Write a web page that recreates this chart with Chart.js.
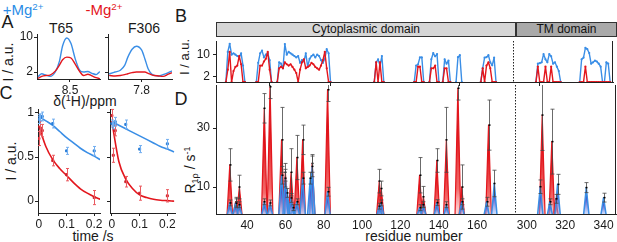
<!DOCTYPE html>
<html><head><meta charset="utf-8">
<script src="https://cdn.jsdelivr.net/npm/chart.js@4.4.1/dist/chart.umd.min.js"></script>
<style>
html,body{margin:0;padding:0;background:#fff;}
body{width:617px;height:242px;position:relative;overflow:hidden;font-family:'Liberation Sans',Arial,sans-serif;color:#1a1a1a;}
.c{position:absolute;white-space:nowrap;line-height:1;transform:translate(-50%,-50%);}
.r{position:absolute;white-space:nowrap;line-height:1;transform:translate(-50%,-50%) rotate(-90deg);}
canvas{position:absolute;}
sup{font-size:65%;vertical-align:0;position:relative;top:-0.5em;}
sub{font-size:65%;vertical-align:0;position:relative;top:0.3em;}
.hdr{position:absolute;box-sizing:border-box;border:1px solid #333;font-size:12px;text-align:center;line-height:13px;color:#111;}
</style></head><body>
<div class="c" style="left:23px;top:9px;font-size:15px;color:#2b8de6">+Mg<sup>2+</sup></div>
<div class="c" style="left:104px;top:9px;font-size:15px;color:#e3161d">-Mg<sup>2+</sup></div>
<div class="c" style="left:7.5px;top:22px;font-size:18px">A</div>
<div class="c" style="left:181px;top:15.5px;font-size:18px">B</div>
<div class="c" style="left:6px;top:93px;font-size:18px">C</div>
<div class="c" style="left:181px;top:99px;font-size:18px">D</div>
<div class="c" style="left:61px;top:28px;font-size:14px">T65</div>
<div class="c" style="left:144px;top:28px;font-size:14px">F306</div>
<div class="r" style="left:8px;top:62px;font-size:14px">I / a.u.</div>
<div class="c" style="left:85px;top:101px;font-size:14px">δ(<sup>1</sup>H)/ppm</div>
<div class="r" style="left:11px;top:161px;font-size:14px">I / a.u.</div>
<div class="c" style="left:93px;top:236px;font-size:14px">time /s</div>
<div class="r" style="left:184px;top:57px;font-size:13px">I / a.u.</div>
<div class="r" style="left:190px;top:170px;font-size:14px">R<sub>1ρ</sub> / s<sup>-1</sup></div>
<div class="c" style="left:414px;top:236px;font-size:14px">residue number</div>
<div class="hdr" style="left:216px;top:22px;width:300px;height:15px;background:#d6d6d6">Cytoplasmic domain</div>
<div class="hdr" style="left:515px;top:22px;width:102px;height:15px;background:#a9a9a9;border-left-width:2px">TM domain</div>
<script>
// ---------------- DATA ----------------
// Panel A: 1D spectra (ppm, intensity)
const t65Ppm  = [8.80,8.77,8.73,8.69,8.64,8.60,8.57,8.53,8.49,8.45,8.41,8.37,8.33,8.29,8.25,8.22];
const t65Blue = [1.0,1.6,1.3,1.0,2.0,4.5,8.0,9.8,8.5,5.0,2.5,2.0,2.1,1.7,1.4,2.0];
const t65Red  = [0.6,1.0,1.2,1.3,2.2,3.6,4.8,5.4,5.2,3.8,2.2,1.2,1.5,1.1,0.7,0.5];
const f306Ppm  = [8.10,8.05,8.00,7.96,7.93,7.89,7.85,7.80,7.77,7.74,7.70,7.64,7.60,7.55,7.52];
const f306Blue = [1.6,2.0,2.4,3.5,5.4,7.2,7.9,7.0,5.0,2.75,1.4,1.1,1.4,1.85,2.2];
const f306Red  = [1.2,1.1,1.2,1.4,1.6,1.85,2.0,2.0,2.0,1.7,1.3,1.1,1.0,1.5,1.8];
const aYTicks = [2,10];

// Panel C: decay points and fitted curves
const cTime = [0,0.005,0.012,0.05,0.1,0.2];
const c65Blue = [0.93,0.95,0.96,0.88,0.57,0.57], c65BlueErr = [0.05,0.04,0.05,0.05,0.04,0.05];
const c65Red  = [0.71,0.83,0.80,0.46,0.30,0.04], c65RedErr  = [0.08,0.08,0.07,0.06,0.07,0.08];
const c306Blue = [0.88,0.86,0.90,0.87,0.59,0.65], c306BlueErr = [0.04,0.04,0.05,0.05,0.04,0.05];
const c306Red  = [0.97,0.52,0.80,0.22,0.09,0.06], c306RedErr  = [0.07,0.08,0.06,0.06,0.08,0.07];
const fitTime = [0,0.025,0.05,0.075,0.1,0.125,0.15,0.175,0.2,0.222];
const fit65Blue = [0.96,0.91,0.86,0.79,0.72,0.66,0.60,0.55,0.51,0.47];
const fit65Red  = [0.85,0.62,0.47,0.37,0.29,0.21,0.14,0.09,0.05,0.02];
const fit306Blue = [0.90,0.86,0.82,0.78,0.74,0.70,0.66,0.62,0.59,0.56];
const fit306Red  = [0.90,0.45,0.25,0.14,0.07,0.04,0.02,0.01,0.005,0.0];
const cXTicks = [0,0.1,0.2], cYTicks = [0,0.5,1];

// Panel B: intensity per residue, runs of consecutive residues
const bStart = [29,45,56,107,128,136,143,150,163,306,329];
const bBlue = [
 [0,11,14,10,10.5,10,9.5,9.2,10.5,6,0],
 [0,7,10.5,11.5,9,10,10.5,8,0],
 [0,7.2,6.7,5,13.9,10,11,10.5,10,9.5,9,9.5,7,8,7.5,10.5,5.6,8.5,9.5,10,9,10,9.5,8,7,8.5,12,10.5,0],
 [0,7.2,8.3,6,9.5,0],
 [0,6,6.4,9,9,0],
 [0,8.3,10.6,9.4,10.2,0],
 [0,8.3,6.7,7.8,0],
 [0,9.1,9.8,0],
 [0,5,8.9,9.1,9.8,7.2,6.1,8.9,0],
 [0,6.7,6.9,7.2,10.2,8.3,7.2,10.2,9.4,6.7,7.2,5.6,4,0],
 [0,8.3,8.9,12.5,12,10.6,6.7,7.2,7.8,7.5,6.7,5.6,0,0,7.2,6.7,0]
];
const bRed = [
 [0,4.5,11,0,4,5.5,6,9.5,6.5,0,0],
 [0,0,6,6,7.5,8.5,11,4.5,0],
 [0,5,5.6,5,7.2,6.5,6,6.5,5.5,4.5,3.3,0,4.5,7.2,8.3,5,5.5,6,7,6.5,5.5,5,4.5,6,8,11,5,0,0],
 [0,7.2,0,7.2,0,0],
 [0,0,5.6,5.6,0,0],
 [0,5,5,6,0,0],
 [0,5,5,0,0],
 [null,null,null,null],
 [0,5,0,6,7.2,5,0,0,0],
 [0,5.6,0,0,0,5.6,0,0,5.6,0,0,0,0,0],
 [0,0,0,5.6,0,0,0,0,0,0,0,0,0,0,0,0,0]
];
const bYTicks = [2,10];
const bXTickRes = [52,84,152,308];

// Panel D: R1rho per residue
const dRedRes = [31,34,36,49,52,58,60,63,66,69,74,82,109,110,130,132,139,144,150,152,166,308,313,315];
const dRedVal = [17.5,5,10,36.7,44,26,15,15,20,26,18,43,12,9.5,14,6.7,19,26,43.5,10,31,34.4,25.4,6];
const dRedErr = [5.5,1.5,4,5,4,11,3,8,7.5,5,3,4,4,2.5,6,3.5,4,11,4,7.5,8.5,12,11,1.5];
const dBlueRes = [31,34,36,49,52,58,60,61,63,64,66,69,73,74,82,109,110,130,132,139,144,152,165,169,307,312,316,331,340];
const dBlueVal = [4.6,4.5,4,5,4.6,14,13,8,6.3,3,5,13,13,17,8.4,3.5,4.6,3,4,4.7,4,5,5,11.2,10.1,5,10.9,9.8,6.4];
const dBlueErr = [1,1.5,1,1,1,3,3,1.5,1.5,1,1,2,2,3.5,1.5,1,1,1,1,1,1,1,1.5,4.5,2.3,1,3.4,1.7,1.5];
const dXTickRes = [40,60,80,100,120,140,160,300,320,340];
const dYTicks = [10,30];

// broken residue axis: cytoplasmic part ends at 180, TM part starts at 294
const AXIS_BREAK = 180, TM_START = 294;
const pos = r => r >= TM_START ? r - (TM_START - AXIS_BREAK) : r;
const resOf = p => p > AXIS_BREAK ? p + (TM_START - AXIS_BREAK) : p;

// ---------------- STYLE / HELPERS ----------------
Chart.defaults.font.family = "'Liberation Sans', Arial, sans-serif";
Chart.defaults.font.size = 12;
Chart.defaults.color = '#1a1a1a';
const BLUE = '#3a8ee6', RED = '#e3161d', AX = '#222';

function canvasAt(l,t,w,h){const c=document.createElement('canvas');c.width=w;c.height=h;c.style.left=l+'px';c.style.top=t+'px';c.style.width=w+'px';c.style.height=h+'px';document.body.appendChild(c);return c;}
function xAxis(min,max,ticks,o={}){return {type:'linear',min,max,bounds:'data',reverse:!!o.reverse,
  afterBuildTicks:s=>{s.ticks=ticks.map(v=>({value:v}));},
  afterFit:s=>{s.height=o.h;s.paddingLeft=0;s.paddingRight=0;},
  ticks:{display:o.labels!==false,callback:o.fmt||(v=>String(v)),padding:o.pad??1,maxRotation:0,autoSkip:false,font:{size:o.fs||12},color:'#1a1a1a'},
  grid:{display:true,drawOnChartArea:false,drawTicks:o.tick!==0,tickLength:o.tick??3,color:AX},
  border:{display:true,color:AX,width:1}};}
function yAxis(min,max,ticks,o={}){return {type:'linear',min,max,bounds:'data',
  afterBuildTicks:s=>{s.ticks=ticks.map(v=>({value:v}));},
  afterFit:s=>{s.width=o.w;s.paddingTop=0;s.paddingBottom=0;},
  ticks:{display:o.labels!==false,callback:o.fmt||(v=>String(v)),padding:o.pad??1,font:{size:o.fs||12},color:'#1a1a1a'},
  grid:{display:true,drawOnChartArea:false,drawTicks:true,tickLength:o.tick??3,color:AX},
  border:{display:true,color:AX,width:1}};}
function mk(cv,datasets,xs,ys,pad,plugins=[]){return new Chart(cv,{type:'line',data:{datasets},
  options:{responsive:false,animation:false,devicePixelRatio:1,events:[],layout:{padding:pad},
    plugins:{legend:{display:false},tooltip:{enabled:false}},scales:{x:xs,y:ys},
    elements:{point:{radius:0},line:{borderCapStyle:'round',borderJoinStyle:'round'}}},plugins});}
const xy = (xs,ys) => xs.map((x,i)=>({x,y:ys[i]}));
const errPlugin = {id:'err',afterDatasetsDraw(ch){const {ctx}=ch,X=ch.scales.x,Y=ch.scales.y;
  ch.data.datasets.forEach(ds=>{if(!ds.errs)return;ctx.save();ctx.strokeStyle=ds.errColor;ctx.lineWidth=1;
    ds.data.forEach((p,i)=>{const e=ds.errs[i];const x=Math.round(X.getPixelForValue(p.x))+0.5;
      const y1=Y.getPixelForValue(p.y-e),y2=Y.getPixelForValue(p.y+e);
      ctx.beginPath();ctx.moveTo(x,y1);ctx.lineTo(x,y2);ctx.moveTo(x-1.5,y1);ctx.lineTo(x+1.5,y1);ctx.moveTo(x-1.5,y2);ctx.lineTo(x+1.5,y2);ctx.stroke();});
    ctx.restore();});}};
function framePlugin(right,dotAt){return {id:'frame',afterDraw(ch){const {ctx,chartArea:a}=ch;ctx.save();ctx.strokeStyle=AX;ctx.lineWidth=1;
  if(right){ctx.beginPath();ctx.moveTo(a.right-0.5,a.top);ctx.lineTo(a.right-0.5,a.bottom);ctx.stroke();}
  if(dotAt!=null){const x=Math.round(ch.scales.x.getPixelForValue(dotAt))+0.5;ctx.setLineDash([1.5,1.5]);ctx.beginPath();ctx.moveTo(x,a.top);ctx.lineTo(x,a.bottom);ctx.stroke();}
  ctx.restore();}};}

// ---------------- PANEL A ----------------
const specLine = (c,d) => ({data:d,borderColor:c,borderWidth:1.4,cubicInterpolationMode:'monotone',pointRadius:0});
mk(canvasAt(5,26,97,69),[specLine(RED,xy(t65Ppm,t65Red)),specLine(BLUE,xy(t65Ppm,t65Blue))],
  xAxis(8.214,8.814,[8.5],{reverse:true,h:16,fmt:v=>v.toFixed(1)}),
  yAxis(0.4,10.7,aYTicks,{w:32,tick:3,pad:1}),{top:8,right:2,left:0,bottom:0});
mk(canvasAt(98,26,76,69),[specLine(RED,xy(f306Ppm,f306Red)),specLine(BLUE,xy(f306Ppm,f306Blue))],
  xAxis(7.516,8.116,[7.8],{reverse:true,h:16,fmt:v=>v.toFixed(1)}),
  yAxis(0.4,10.7,aYTicks,{w:10,tick:3,labels:false}),{top:8,right:2,left:0,bottom:0});

// ---------------- PANEL C ----------------
const fitLine = (c,d) => ({data:d,borderColor:c,borderWidth:1.6,cubicInterpolationMode:'monotone',pointRadius:0});
const pts = (c,ec,d,e) => ({data:d,showLine:false,pointRadius:1.4,pointStyle:'rect',pointBackgroundColor:c,pointBorderColor:c,errs:e,errColor:ec});
const cFmt = v => v===0?'0':String(v);
mk(canvasAt(6,104,99,125),[
  pts('#d0202a','#ea5a60',xy(cTime,c65Red),c65RedErr),pts('#2a7ed8','#72aef0',xy(cTime,c65Blue),c65BlueErr),
  fitLine(RED,xy(fitTime,fit65Red)),fitLine(BLUE,xy(fitTime,fit65Blue))],
  xAxis(-0.0034,0.221,cXTicks,{h:16,fmt:cFmt}),yAxis(-0.135,1.045,cYTicks,{w:32,tick:3,pad:1,fmt:cFmt}),
  {top:4,right:2,left:0,bottom:0},[errPlugin]);
mk(canvasAt(100,104,80,125),[
  pts('#d0202a','#ea5a60',xy(cTime,c306Red),c306RedErr),pts('#2a7ed8','#72aef0',xy(cTime,c306Blue),c306BlueErr),
  fitLine(RED,xy(fitTime,fit306Red)),fitLine(BLUE,xy(fitTime,fit306Blue))],
  xAxis(-0.0069,0.2276,cXTicks,{h:16,fmt:cFmt}),yAxis(-0.135,1.045,cYTicks,{w:10,tick:3,labels:false}),
  {top:4,right:2,left:0,bottom:0},[errPlugin]);

// ---------------- PANEL B ----------------
function runs(vals){const out=[];bStart.forEach((s,k)=>{vals[k].forEach((v,i)=>out.push({x:pos(s+i),y:v}));out.push({x:pos(s+vals[k].length)+0.5,y:null});});return out;}
const X_MIN = 23.8, X_MAX = 232.5;
mk(canvasAt(186,37,431,53),[
  {data:runs(bRed),borderColor:RED,borderWidth:1.4,pointRadius:1.1,pointBackgroundColor:RED,pointBorderWidth:0,spanGaps:false,order:0},
  {data:runs(bBlue),borderColor:BLUE,borderWidth:1.4,pointRadius:1.1,pointBackgroundColor:BLUE,pointBorderWidth:0,spanGaps:false,order:1}],
  xAxis(X_MIN,X_MAX,bXTickRes.map(pos),{h:8,labels:false,tick:4}),
  yAxis(0,15,bYTicks,{w:30,tick:3,pad:3}),{top:0,right:1,left:0,bottom:0},[framePlugin(true,AXIS_BREAK)]);

// ---------------- PANEL D ----------------
const SPIKE_HALF = 1.5;
function spikeGrad(c,v,kind){const ch=c.chart,a=ch.chartArea;if(!a)return 'transparent';
  const y0=ch.scales.y.getPixelForValue(v);const g=ch.ctx.createLinearGradient(0,y0,0,a.bottom);
  if(kind==='r'){g.addColorStop(0,'rgb(115,0,5)');g.addColorStop(0.35,'rgb(222,20,25)');g.addColorStop(0.8,'rgba(240,70,70,0.8)');g.addColorStop(1,'rgba(250,160,160,0.4)');}
  else{g.addColorStop(0,'rgb(35,25,110)');g.addColorStop(0.45,'rgb(80,80,200)');g.addColorStop(1,'rgba(150,180,245,0.45)');}
  return g;}
function spikes(res,vals,kind,order){return res.map((r,i)=>{const p=pos(r),v=vals[i];
  return {data:[{x:p-SPIKE_HALF,y:0},{x:p,y:v},{x:p+SPIKE_HALF,y:0}],borderColor:kind==='r'?RED:BLUE,borderWidth:kind==='r'?1.2:1.5,
    fill:'origin',backgroundColor:c=>spikeGrad(c,v,kind),pointRadius:0,tension:0,order};});}
const dErrPlugin = {id:'dErr',afterDatasetsDraw(ch){const {ctx,chartArea:a}=ch,X=ch.scales.x,Y=ch.scales.y;
  ctx.save();ctx.beginPath();ctx.rect(a.left,a.top,a.right-a.left,a.bottom-a.top);ctx.clip();
  const draw=(res,vals,errs)=>res.forEach((r,i)=>{const x=Math.round(X.getPixelForValue(pos(r)))+0.5,v=vals[i],e=errs[i];
    const y1=Y.getPixelForValue(v-e),y2=Y.getPixelForValue(v+e),yv=Y.getPixelForValue(v);
    ctx.strokeStyle='rgba(70,70,70,0.8)';ctx.lineWidth=1;ctx.beginPath();ctx.moveTo(x,y1);ctx.lineTo(x,y2);
    ctx.moveTo(x-2,y2);ctx.lineTo(x+2,y2);ctx.moveTo(x-2,y1);ctx.lineTo(x+2,y1);ctx.stroke();
    ctx.fillStyle='#000';ctx.fillRect(x-1,yv-0.75,2,1.5);});
  draw(dRedRes,dRedVal,dRedErr);draw(dBlueRes,dBlueVal,dBlueErr);ctx.restore();}};
mk(canvasAt(181,85,436,157),[...spikes(dBlueRes,dBlueVal,'b',1),...spikes(dRedRes,dRedVal,'r',2)],
  xAxis(X_MIN,X_MAX,dXTickRes.map(pos),{h:28,tick:0,pad:4,fmt:v=>String(Math.round(resOf(v)))}),
  yAxis(0.85,44.6,dYTicks,{w:35,tick:3,pad:3}),{top:0,right:1,left:0,bottom:0},[dErrPlugin,framePlugin(true,AXIS_BREAK)]);
</script>
</body></html>
